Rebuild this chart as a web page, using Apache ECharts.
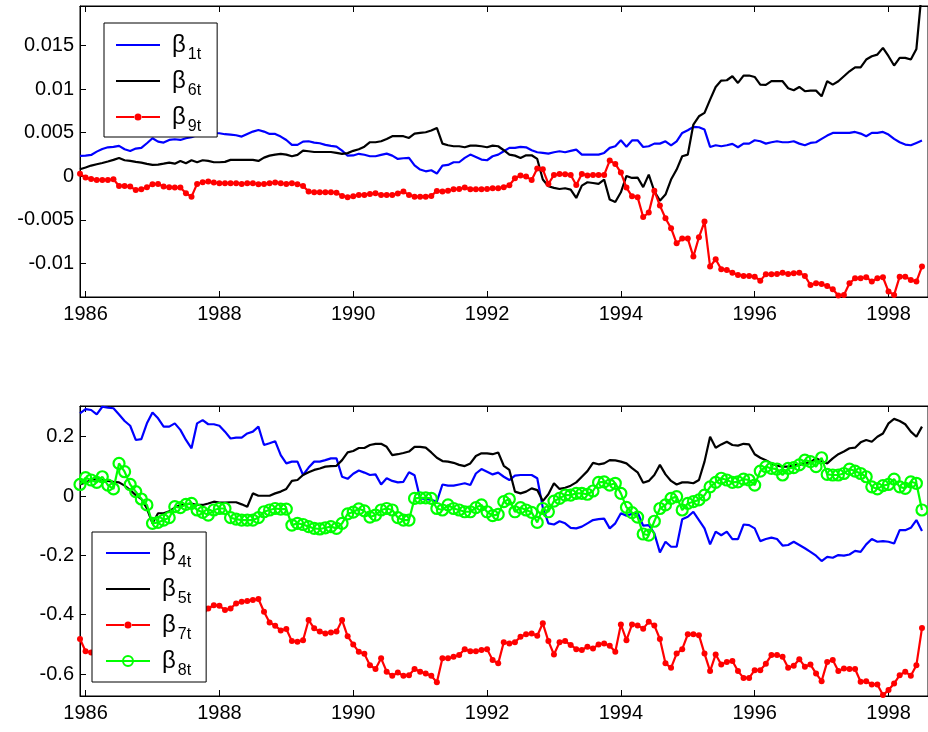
<!DOCTYPE html>
<html><head><meta charset="utf-8">
<script src="https://cdn.jsdelivr.net/npm/echarts@6/dist/echarts.min.js"></script>
<style>html,body{margin:0;padding:0;background:#fff}#c{width:928px;height:732px}</style>
</head><body><div id="c"></div>
<script>
// ---- data (monthly observations, Dec 1985 .. Jul 1998) ----
const startYear = 1985 + 11 / 12;   // first observation
const monthStep = 1 / 12;
const xTickValues = [1986, 1988, 1990, 1992, 1994, 1996, 1998];
const yTicksTop = [-0.01, -0.005, 0, 0.005, 0.01, 0.015];
const yTicksBottom = [-0.6, -0.4, -0.2, 0, 0.2];

const beta1t = [
0.00234,0.00237,0.00245,0.00283,0.00314,0.00333,0.00337,0.00349,0.0031,0.00291,0.00318,0.00326,
0.00379,0.00437,0.00398,0.00387,0.00417,0.00425,0.00417,0.00437,0.00448,0.00475,0.00486,0.00494,
0.00494,0.00494,0.00483,0.00479,0.00471,0.00456,0.00486,0.00513,0.00532,0.00513,0.00486,0.00486,
0.00456,0.00417,0.0036,0.0036,0.00398,0.00402,0.00387,0.00379,0.0036,0.00349,0.00341,0.00295,
0.00236,0.00239,0.00258,0.00247,0.0023,0.0023,0.00245,0.0026,0.00237,0.00199,0.00207,0.00211,
0.00126,0.00077,0.00057,0.00069,0.00031,0.00123,0.0013,0.00161,0.00161,0.00211,0.00249,0.00222,
0.00192,0.00184,0.0023,0.00249,0.00287,0.00326,0.00326,0.00337,0.00333,0.00299,0.00276,0.00268,
0.0026,0.00276,0.00287,0.00276,0.00291,0.00306,0.00249,0.00249,0.00249,0.00249,0.00268,0.00326,
0.00345,0.00414,0.0034,0.00412,0.00414,0.00336,0.00345,0.00375,0.00375,0.00402,0.00356,0.00402,
0.00498,0.00529,0.00567,0.00563,0.00536,0.00337,0.00356,0.00345,0.00356,0.00372,0.00333,0.00375,
0.00375,0.00414,0.00402,0.00375,0.00391,0.00402,0.00391,0.00391,0.00402,0.00375,0.00356,0.00383,
0.00391,0.00429,0.00467,0.00498,0.00498,0.00498,0.00498,0.00509,0.0049,0.0046,0.00498,0.00498,
0.00509,0.00479,0.00429,0.00391,0.00364,0.00356,0.00383,0.0041];

const beta6t = [
0.0008,0.001,0.00123,0.00138,0.00153,0.00169,0.00188,0.0021,0.00184,0.00176,0.00165,0.00157,
0.00142,0.0013,0.00134,0.00145,0.00157,0.00145,0.00176,0.00149,0.00184,0.00161,0.00184,0.00176,
0.00161,0.00161,0.00165,0.00188,0.00188,0.00188,0.00188,0.00188,0.00176,0.00214,0.00237,0.00249,
0.00257,0.00249,0.0023,0.00245,0.00295,0.00287,0.00279,0.00279,0.00279,0.00279,0.00268,0.00257,
0.00266,0.00292,0.0031,0.0034,0.00391,0.00391,0.00402,0.00429,0.0046,0.0046,0.0046,0.0044,
0.0049,0.00498,0.00506,0.00525,0.00555,0.00375,0.00356,0.00345,0.00345,0.00333,0.00352,0.00352,
0.00345,0.00333,0.00352,0.00345,0.00299,0.00249,0.00237,0.00211,0.00241,0.00241,0.00199,-0.00038,
-0.00115,-0.00134,-0.00146,-0.00138,-0.00153,-0.00249,-0.00107,-0.00069,-0.00077,-0.00088,-0.00038,-0.00268,
-0.00295,-0.00184,0.00004,-0.00019,-0.00015,-0.00125,0.00019,-0.00172,-0.0028,-0.0021,-0.00038,0.00077,
0.0023,0.00249,0.00594,0.00689,0.00728,0.00881,0.01026,0.01099,0.01103,0.01149,0.01072,0.01157,
0.01157,0.01141,0.01053,0.01049,0.01092,0.01092,0.01092,0.01011,0.00988,0.01026,0.00977,0.00984,
0.00984,0.00919,0.01092,0.01053,0.01092,0.01149,0.01206,0.01252,0.01252,0.01341,0.01379,0.01398,
0.01475,0.01379,0.01272,0.0136,0.0136,0.01341,0.01463,0.0215];

const beta9t = [
0.0003,-0.00015,-0.00031,-0.00042,-0.00042,-0.00042,-0.00034,-0.00111,-0.00111,-0.00119,-0.00157,-0.00149,
-0.00126,-0.00092,-0.00088,-0.00119,-0.00126,-0.0013,-0.0013,-0.00195,-0.00234,-0.00088,-0.00069,-0.00061,
-0.00073,-0.0008,-0.0008,-0.0008,-0.0008,-0.00088,-0.0008,-0.0008,-0.00092,-0.00088,-0.0008,-0.00073,
-0.0008,-0.00088,-0.0008,-0.00092,-0.00111,-0.00176,-0.00184,-0.00184,-0.00184,-0.00184,-0.00188,-0.00226,
-0.00241,-0.0023,-0.00214,-0.00214,-0.00203,-0.00195,-0.00214,-0.00214,-0.00214,-0.00199,-0.00176,-0.00214,
-0.00234,-0.00234,-0.00234,-0.00226,-0.00168,-0.00176,-0.00165,-0.00149,-0.00146,-0.0013,-0.00149,-0.00149,
-0.00149,-0.00146,-0.00138,-0.00138,-0.00126,-0.00103,-0.00023,0.00008,-0.00004,-0.00042,0.0009,0.0008,
-0.00088,0.00015,0.00027,0.00023,0.00015,-0.001,0.00027,0.00008,0.00015,0.00015,0.00015,0.0018,
0.00142,0.00042,-0.0013,-0.0023,-0.0024,-0.00468,-0.00417,-0.00165,-0.00337,-0.00483,-0.00597,-0.0077,
-0.00716,-0.00716,-0.00923,-0.00701,-0.00521,-0.01038,-0.00953,-0.01068,-0.01076,-0.01107,-0.01134,-0.01145,
-0.01145,-0.01153,-0.01199,-0.01126,-0.01126,-0.01122,-0.01107,-0.01122,-0.01115,-0.01107,-0.01145,-0.01249,
-0.0123,-0.01237,-0.0126,-0.01298,-0.0137,-0.01363,-0.0123,-0.01172,-0.01172,-0.0116,-0.0121,-0.01172,
-0.0116,-0.01325,-0.01363,-0.01153,-0.01153,-0.01191,-0.0121,-0.01038];

const beta4t = [
0.279,0.293,0.29,0.275,0.301,0.298,0.296,0.275,0.253,0.237,0.189,0.192,
0.245,0.282,0.262,0.234,0.234,0.245,0.223,0.189,0.161,0.245,0.256,0.242,
0.242,0.237,0.217,0.194,0.197,0.197,0.211,0.217,0.234,0.172,0.178,0.185,
0.138,0.11,0.116,0.116,0.071,0.096,0.116,0.116,0.121,0.127,0.127,0.065,
0.058,0.075,0.086,0.079,0.071,0.073,0.039,0.06,0.051,0.046,0.048,0.08,
0.07,-0.008,-0.01,-0.013,-0.019,0.039,0.035,0.035,0.039,0.043,0.037,0.076,
0.091,0.082,0.073,0.079,0.065,0.054,0.069,0.071,0.071,0.071,0.06,-0.039,
-0.092,-0.096,-0.085,-0.092,-0.107,-0.109,-0.103,-0.092,-0.081,-0.078,-0.076,-0.109,
-0.092,-0.058,-0.066,-0.06,-0.055,-0.1,-0.098,-0.126,-0.19,-0.154,-0.171,-0.171,
-0.078,-0.07,-0.053,-0.081,-0.109,-0.163,-0.12,-0.132,-0.12,-0.145,-0.145,-0.096,
-0.098,-0.109,-0.152,-0.145,-0.14,-0.145,-0.167,-0.165,-0.154,-0.165,-0.176,-0.188,
-0.201,-0.219,-0.205,-0.208,-0.199,-0.201,-0.197,-0.185,-0.188,-0.163,-0.145,-0.154,
-0.152,-0.154,-0.16,-0.115,-0.115,-0.107,-0.081,-0.118];

const beta5t = [
0.039,0.046,0.054,0.057,0.054,0.051,0.048,0.046,0.035,0.02,0.003,-0.01,
-0.042,-0.092,-0.058,-0.058,-0.051,-0.039,-0.03,-0.028,-0.025,-0.03,-0.03,-0.025,
-0.019,-0.022,-0.022,-0.021,-0.021,-0.028,-0.036,0.009,0.001,0.001,0.001,0.009,
0.015,0.024,0.051,0.054,0.071,0.08,0.088,0.093,0.099,0.101,0.102,0.121,
0.147,0.152,0.162,0.162,0.172,0.176,0.176,0.166,0.138,0.141,0.145,0.15,
0.166,0.166,0.163,0.147,0.129,0.118,0.116,0.112,0.105,0.101,0.11,0.135,
0.144,0.144,0.141,0.147,0.102,0.088,0.015,0.009,0.015,0.026,0.02,-0.017,
0.006,0.043,0.024,0.028,0.035,0.046,0.065,0.084,0.112,0.107,0.11,0.121,
0.12,0.116,0.11,0.094,0.08,0.045,0.051,0.071,0.105,0.073,0.051,0.039,
0.046,0.046,0.043,0.054,0.116,0.2,0.163,0.174,0.183,0.172,0.17,0.176,
0.174,0.141,0.129,0.121,0.11,0.102,0.099,0.099,0.105,0.105,0.11,0.114,
0.127,0.118,0.11,0.127,0.141,0.15,0.161,0.163,0.181,0.189,0.183,0.2,
0.211,0.245,0.26,0.253,0.242,0.217,0.2,0.234];

const beta7t = [
-0.482,-0.523,-0.527,-0.53,-0.51,-0.5,-0.49,-0.47,-0.46,-0.47,-0.45,-0.44,
-0.45,-0.43,-0.44,-0.42,-0.43,-0.41,-0.42,-0.41,-0.4,-0.41,-0.4,-0.379,
-0.368,-0.37,-0.384,-0.379,-0.362,-0.356,-0.354,-0.35,-0.347,-0.39,-0.426,-0.437,
-0.453,-0.448,-0.489,-0.491,-0.486,-0.418,-0.446,-0.457,-0.463,-0.46,-0.457,-0.418,
-0.473,-0.5,-0.525,-0.532,-0.57,-0.583,-0.547,-0.592,-0.606,-0.595,-0.606,-0.604,
-0.583,-0.592,-0.598,-0.606,-0.628,-0.547,-0.547,-0.542,-0.536,-0.516,-0.523,-0.523,
-0.519,-0.516,-0.553,-0.564,-0.493,-0.497,-0.493,-0.474,-0.466,-0.463,-0.471,-0.429,
-0.489,-0.534,-0.493,-0.489,-0.502,-0.516,-0.519,-0.508,-0.514,-0.5,-0.497,-0.505,
-0.525,-0.433,-0.486,-0.433,-0.436,-0.447,-0.424,-0.436,-0.482,-0.564,-0.579,-0.531,
-0.516,-0.466,-0.466,-0.469,-0.531,-0.59,-0.534,-0.568,-0.559,-0.556,-0.59,-0.613,
-0.613,-0.587,-0.587,-0.565,-0.536,-0.536,-0.542,-0.579,-0.572,-0.55,-0.575,-0.568,
-0.598,-0.624,-0.559,-0.553,-0.59,-0.581,-0.583,-0.583,-0.626,-0.624,-0.635,-0.635,
-0.671,-0.654,-0.632,-0.604,-0.592,-0.606,-0.57,-0.445];

const beta8t = [
0.039,0.062,0.054,0.046,0.065,0.037,0.024,0.11,0.082,0.039,0.015,-0.01,
-0.03,-0.092,-0.089,-0.081,-0.073,-0.036,-0.039,-0.028,-0.025,-0.047,-0.055,-0.064,
-0.047,-0.042,-0.042,-0.073,-0.078,-0.081,-0.081,-0.081,-0.073,-0.053,-0.047,-0.042,
-0.044,-0.044,-0.098,-0.092,-0.096,-0.103,-0.109,-0.111,-0.107,-0.103,-0.109,-0.092,
-0.06,-0.054,-0.043,-0.05,-0.071,-0.064,-0.047,-0.042,-0.047,-0.073,-0.081,-0.081,
-0.008,-0.006,-0.006,-0.008,-0.042,-0.047,-0.03,-0.042,-0.047,-0.053,-0.053,-0.039,
-0.03,-0.053,-0.066,-0.062,-0.019,-0.01,-0.053,-0.039,-0.047,-0.055,-0.089,-0.042,
-0.053,-0.017,-0.008,0.003,0.003,0.009,0.009,0.006,0.017,0.046,0.048,0.037,
0.043,0.009,-0.038,-0.056,-0.071,-0.128,-0.132,-0.085,-0.042,-0.03,-0.008,-0.002,
-0.047,-0.025,-0.019,-0.013,0.003,0.031,0.046,0.06,0.054,0.046,0.048,0.057,
0.054,0.037,0.084,0.099,0.093,0.091,0.071,0.093,0.096,0.105,0.121,0.116,
0.099,0.129,0.073,0.071,0.071,0.076,0.091,0.084,0.076,0.065,0.031,0.024,
0.035,0.039,0.057,0.031,0.026,0.048,0.043,-0.047];

// ---- chart ----
const FONT = 'Liberation Sans';
const xMin = startYear, xMax = 1998.59;
const pairs = arr => arr.map((v, i) => [startYear + i * monthStep, v]);
const fmt = v => String(+(+v).toFixed(4));
const LW = 2.2;

function xAxes(grid) {
  const common = {
    gridIndex: grid, type: 'value', min: xMin, max: xMax,
    axisLine: { show: true, onZero: false, lineStyle: { color: '#000', width: 1 } },
    axisTick: { show: true, inside: true, length: 6, customValues: xTickValues, lineStyle: { color: '#000' } },
    splitLine: { show: false }
  };
  return [
    Object.assign({}, common, { position: 'bottom',
      axisLabel: { show: true, customValues: xTickValues, formatter: v => String(Math.round(v)),
        color: '#000', fontFamily: FONT, fontSize: 20, margin: 7 } }),
    Object.assign({}, common, { position: 'top', axisLabel: { show: false } })
  ];
}
function yAxis(grid, min, max, ticks) {
  return {
    gridIndex: grid, type: 'value', min: min, max: max,
    axisLine: { show: true, onZero: false, lineStyle: { color: '#000', width: 1 } },
    axisTick: { show: true, inside: true, length: 6, customValues: ticks, lineStyle: { color: '#000' } },
    axisLabel: { show: true, customValues: ticks, formatter: fmt, color: '#000', fontFamily: FONT, fontSize: 20, margin: 6 },
    splitLine: { show: false }
  };
}
function lineSeries(name, data, color, xi, yi, extra) {
  return Object.assign({
    name: name, type: 'line', xAxisIndex: xi, yAxisIndex: yi, data: pairs(data),
    color: color, symbol: 'none', lineStyle: { color: color, width: LW },
    emphasis: { disabled: true }, animation: false, clip: true
  }, extra || {});
}
const redDots = { symbol: 'circle', symbolSize: 6, showSymbol: true, showAllSymbol: true, itemStyle: { color: '#ff0000' } };
const greenRings = { symbol: 'circle', symbolSize: 11, showSymbol: true, showAllSymbol: true,
  itemStyle: { color: 'rgba(0,0,0,0)', borderColor: '#00ff00', borderWidth: 2.2 } };

const LINE_ICON = 'path://M0,-1.1H44V1.1H0Z';
const DOT_ICON = 'path://M0,-1.1H19V1.1H0Z M25,-1.1H44V1.1H25Z M18.5,0A3.5,3.5,0,1,0,25.5,0A3.5,3.5,0,1,0,18.5,0Z';

function legendStyle(lh, padTop) {
  return {
    color: '#000', fontFamily: FONT,
    rich: {
      b: { fontSize: 24, lineHeight: lh, fontFamily: FONT, color: '#000', padding: [0, 0, 0, 7] },
      s: { fontSize: 16, lineHeight: 16, fontFamily: FONT, color: '#000', padding: [padTop, 0, 0, 2] }
    }
  };
}
const legendFormatter = name => '{b|β}{s|' + name.slice(1) + '}';

const option = {
  animation: false,
  backgroundColor: '#fff',
  grid: [
    { left: 80, top: 6, width: 852, height: 291, show: true, borderColor: '#000', borderWidth: 1, backgroundColor: 'transparent' },
    { left: 80, top: 406, width: 852, height: 290, show: true, borderColor: '#000', borderWidth: 1, backgroundColor: 'transparent' }
  ],
  xAxis: xAxes(0).concat(xAxes(1)),
  yAxis: [yAxis(0, -0.01387, 0.01956, yTicksTop), yAxis(1, -0.674, 0.3035, yTicksBottom)],
  legend: [
    { orient: 'vertical', left: 104, top: 23, padding: [4, 16, 2, 12], itemGap: 0, itemWidth: 44, itemHeight: 12,
      backgroundColor: '#fff', borderColor: '#000', borderWidth: 1, selectedMode: false,
      formatter: legendFormatter, textStyle: legendStyle(36, 20),
      data: [{ name: 'β1t', icon: LINE_ICON }, { name: 'β6t', icon: LINE_ICON }, { name: 'β9t', icon: DOT_ICON }] },
    { orient: 'vertical', left: 92, top: 532, padding: [3, 15, 3, 13], itemGap: 0, itemWidth: 44, itemHeight: 12.5,
      backgroundColor: '#fff', borderColor: '#000', borderWidth: 1, selectedMode: false,
      formatter: legendFormatter, textStyle: legendStyle(35.7, 20),
      data: [{ name: 'β4t', icon: LINE_ICON }, { name: 'β5t', icon: LINE_ICON }, { name: 'β7t', icon: DOT_ICON }, { name: 'β8t' }] }
  ],
  series: [
    lineSeries('β1t', beta1t, '#0000ff', 0, 0),
    lineSeries('β6t', beta6t, '#000000', 0, 0),
    lineSeries('β9t', beta9t, '#ff0000', 0, 0, redDots),
    lineSeries('β4t', beta4t, '#0000ff', 2, 1),
    lineSeries('β5t', beta5t, '#000000', 2, 1),
    lineSeries('β7t', beta7t, '#ff0000', 2, 1, redDots),
    lineSeries('β8t', beta8t, '#00ff00', 2, 1, greenRings)
  ]
};
const chart = echarts.init(document.getElementById('c'), null, { renderer: 'canvas' });
chart.setOption(option);
</script></body></html>
